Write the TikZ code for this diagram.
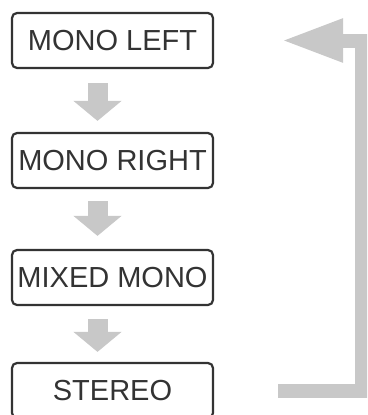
\documentclass[tikz,border=0pt]{standalone}
\usepackage{fontspec}
\setmainfont{Liberation Sans}
\usetikzlibrary{arrows.meta}
\definecolor{flowgray}{HTML}{C8C8C8}
\definecolor{boxline}{HTML}{333333}
\tikzset{
  modebox/.style={draw=boxline, line width=2.2pt, rounded corners=5pt,
    minimum width=201pt, minimum height=55pt, inner sep=0pt,
    text=boxline, font=\fontsize{29}{29}\selectfont},
  downarrow/.style={draw=flowgray, line width=20pt,
    -{Triangle[width=47pt,length=20pt]}},
  returnarrow/.style={draw=flowgray, line width=14pt, line join=miter,
    -{Triangle[width=40pt,length=62pt]}}
}
\begin{document}
\begin{tikzpicture}[x=1pt,y=1pt]
\useasboundingbox (0,0) rectangle (367,-415);
\clip (0,0) rectangle (367,-415);
\fill[white] (0,0) rectangle (367,-415);
\node[modebox] (a) at (112.5,-40.5) {MONO LEFT};
\node[modebox] (b) at (112.5,-160.5) {MONO RIGHT};
\node[modebox] (c) at (112.5,-277.5) {MIXED MONO};
\node[modebox] (d) at (112.5,-390.5) {STEREO};
\draw[downarrow, shorten <=14pt, shorten >=11pt] ([xshift=-15pt]a.south) -- ([xshift=-15pt]b.north);
\draw[downarrow, shorten <=12pt, shorten >=13pt] ([xshift=-15pt]b.south) -- ([xshift=-15pt]c.north);
\draw[downarrow, shorten <=13pt, shorten >=10pt] ([xshift=-15pt]c.south) -- ([xshift=-15pt]d.north);
\draw[returnarrow] ([xshift=64pt]d.east) -- ([xshift=148pt]d.east) |- ([xshift=67pt]a.east);
\end{tikzpicture}
\end{document}
